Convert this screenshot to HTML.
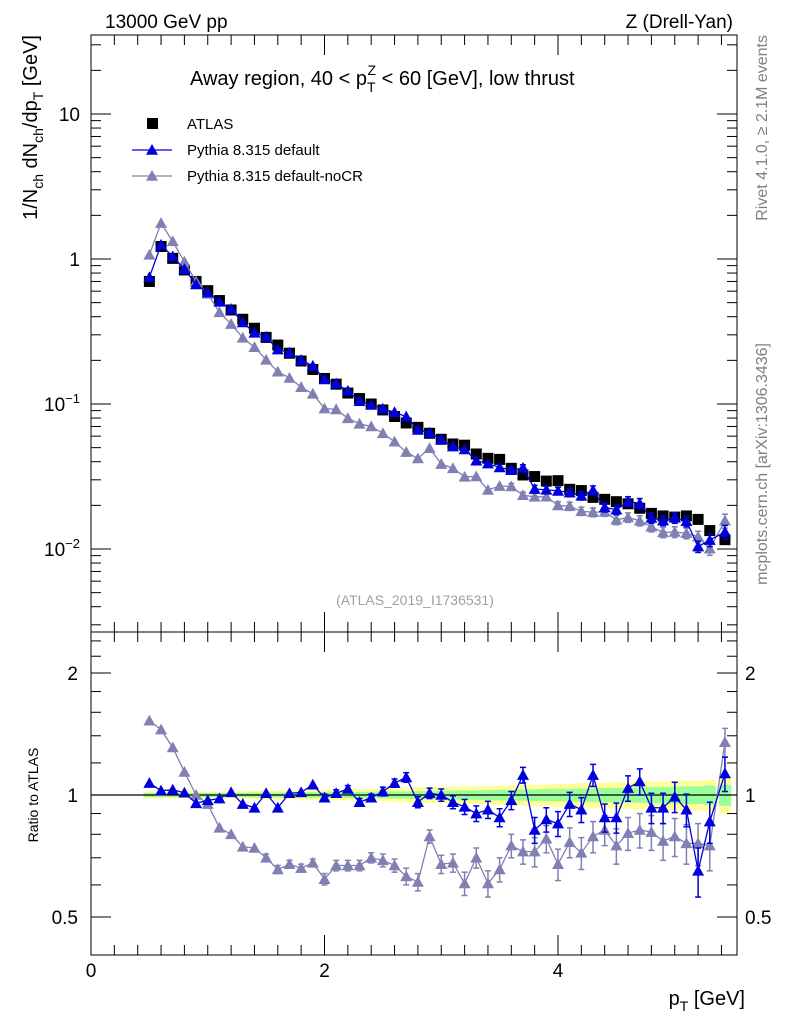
<!DOCTYPE html>
<html><head><meta charset="utf-8"><style>
body{margin:0;background:#fff}
svg{display:block;font-family:"Liberation Sans",sans-serif}
</style></head><body>
<svg id="c" width="786" height="1024" viewBox="0 0 786 1024"></svg>
<script>
const xVals=[0.5,0.6,0.7,0.8,0.9,1.0,1.1,1.2,1.3,1.4,1.5,1.6,1.7,1.8,1.9,2.0,2.1,2.2,2.3,2.4,2.5,2.6,2.7,2.8,2.9,3.0,3.1,3.2,3.3,3.4,3.5,3.6,3.7,3.8,3.9,4.0,4.1,4.2,4.3,4.4,4.5,4.6,4.7,4.8,4.9,5.0,5.1,5.2,5.3,5.43];
const atlas=[0.70,1.22,1.01,0.84,0.70,0.605,0.517,0.445,0.384,0.333,0.288,0.255,0.224,0.198,0.173,0.150,0.137,0.119,0.109,0.100,0.091,0.082,0.074,0.069,0.0628,0.0571,0.053,0.052,0.0452,0.0422,0.0415,0.036,0.0324,0.0316,0.0294,0.0296,0.0258,0.0253,0.0227,0.022,0.0212,0.0205,0.0191,0.0176,0.0169,0.0166,0.0169,0.016,0.0134,0.0116];
const ratioDefault=[1.07,1.025,1.03,1.013,0.954,0.97,0.98,1.015,0.95,0.93,1.01,0.93,1.01,1.015,1.06,0.985,1.01,1.035,0.96,0.985,1.02,1.07,1.105,0.96,1.01,1.0,0.96,0.935,0.90,0.92,0.88,0.97,1.12,0.82,0.87,0.85,0.95,0.92,1.12,0.88,0.88,1.04,1.08,0.93,0.93,0.99,0.92,0.65,0.86,1.13];
const ratioNoCR=[1.525,1.45,1.31,1.14,1.0,0.95,0.83,0.80,0.745,0.74,0.70,0.655,0.675,0.66,0.68,0.62,0.67,0.67,0.67,0.70,0.69,0.67,0.63,0.61,0.79,0.675,0.68,0.605,0.70,0.605,0.655,0.75,0.725,0.725,0.78,0.675,0.765,0.72,0.79,0.82,0.75,0.805,0.82,0.81,0.77,0.79,0.76,0.76,0.75,1.35];
const ratioErr=[0.01,0.01,0.01,0.01,0.01,0.01,0.01,0.01,0.01,0.01,0.015,0.015,0.015,0.015,0.015,0.02,0.02,0.02,0.02,0.02,0.025,0.025,0.03,0.03,0.03,0.035,0.035,0.04,0.04,0.045,0.045,0.05,0.05,0.06,0.06,0.06,0.065,0.065,0.07,0.07,0.075,0.075,0.08,0.08,0.08,0.085,0.085,0.09,0.1,0.11];
const bandYellow=[0.02,0.02,0.02,0.02,0.02,0.02,0.02,0.02,0.02,0.025,0.025,0.025,0.025,0.03,0.03,0.03,0.03,0.03,0.035,0.035,0.035,0.04,0.04,0.045,0.045,0.045,0.05,0.05,0.05,0.05,0.055,0.055,0.06,0.06,0.06,0.065,0.065,0.07,0.07,0.07,0.075,0.075,0.08,0.08,0.08,0.085,0.085,0.085,0.09,0.1];
const bandGreen=[0.012,0.012,0.012,0.012,0.012,0.012,0.012,0.012,0.012,0.014,0.014,0.014,0.015,0.015,0.016,0.016,0.017,0.017,0.018,0.018,0.019,0.02,0.02,0.022,0.022,0.024,0.025,0.026,0.027,0.028,0.03,0.03,0.032,0.033,0.034,0.035,0.036,0.037,0.038,0.04,0.04,0.042,0.043,0.045,0.046,0.048,0.05,0.05,0.055,0.06];
const mainTicks=["10","1","10<tspan dy='-8' font-size='13'>−1</tspan>","10<tspan dy='-8' font-size='13'>−2</tspan>"];
const xTickLabels=["0","2","4"];

const NS="http://www.w3.org/2000/svg";
const svg=document.getElementById('c');
const L=91,R=737,T1=35,B1=632,B2=955;
const X=v=>L+v*116.75;
const Ym=v=>259-Math.log10(v)*145;
const Yr=v=>795-Math.log2(v)*122;
function mk(tag,attrs,parent){const e=document.createElementNS(NS,tag);for(const k in attrs)e.setAttribute(k,attrs[k]);(parent||svg).appendChild(e);return e;}
function txt(s,x,y,size,anchor,extra){const t=mk('text',Object.assign({x:x,y:y,'font-size':size,'text-anchor':anchor||'start',fill:'#000'},extra||{}));t.innerHTML=s;return t;}

const gb=mk('g',{});


xVals.forEach((x,i)=>{
  const x0=X(x-0.05),w=116.75*0.1+0.5;
  mk('rect',{x:x0,y:Yr(1+bandYellow[i]),width:w,height:Yr(1-bandYellow[i])-Yr(1+bandYellow[i]),fill:'#ffff99'},gb);
  mk('rect',{x:x0,y:Yr(1+bandGreen[i]),width:w,height:Yr(1-bandGreen[i])-Yr(1+bandGreen[i]),fill:'#99ff99'},gb);
});
const one=mk('line',{x1:L,x2:R,y1:Yr(1),y2:Yr(1),stroke:'#000','stroke-width':1.3});



const f1=mk('rect',{x:L,y:T1,width:R-L,height:B1-T1,fill:'none',stroke:'#000','stroke-width':1});

const f2=mk('rect',{x:L,y:B1,width:R-L,height:B2-B1,fill:'none',stroke:'#000','stroke-width':1});


const gt=mk('g',{stroke:'#000','stroke-width':1});

function tk(x1,y1,x2,y2){mk('line',{x1:x1,y1:y1,x2:x2,y2:y2},gt);}
for(let e=-3;e<=1;e++){for(let m=1;m<10;m++){const v=m*Math.pow(10,e);const y=Ym(v);if(y<T1||y>B1)continue;const len=m==1?20:10;tk(L,y,L+len,y);tk(R,y,R-len,y);}}
[0.5,0.6,0.7,0.8,0.9,1,1.2,1.4,1.6,1.8,2,2.2,2.4].forEach(v=>{const y=Yr(v);const len=(v==0.5||v==1||v==2)?20:10;tk(L,y,L+len,y);tk(R,y,R-len,y);});
for(let v=0;v<=5.6;v+=0.2){const x=X(v);const maj=Math.abs(v/2-Math.round(v/2))<0.01;const len=maj?20:10;tk(x,B1,x,B1-len);tk(x,T1,x,T1+len);tk(x,B2,x,B2-len);tk(x,B1,x,B1+len);}

[10,1,0.1,0.01].forEach((v,i)=>{const t=txt(mainTicks[i],80,Ym(v)+7,19,'end');});
[2,1,0.5].forEach(v=>{const s=String(v);let t=txt(s,78,Yr(v)+7,19,'end');t=txt(s,745,Yr(v)+7,19,'start');});
[0,2,4].forEach((v,i)=>{const t=txt(xTickLabels[i],X(v),977,19,'middle');});

function tri(g,x,y,col,s){mk('polygon',{points:`${x-s},${y+s*0.8} ${x+s},${y+s*0.8} ${x},${y-s}`,fill:col},g);}
function series(name,ratio,col,inRatio){
  const g=mk('g',{});
  
  
  const Y=inRatio?(i=>Yr(ratio[i])):(i=>Ym(atlas[i]*ratio[i]));
  mk('polyline',{points:xVals.map((x,i)=>X(x)+','+Y(i)).join(' '),fill:'none',stroke:col,'stroke-width':1.3},g);
  xVals.forEach((x,i)=>{
    const e=ratioErr[i];
    let y1,y2;
    if(inRatio){y1=Yr(ratio[i]+e);y2=Yr(Math.max(ratio[i]-e,0.41));}
    else{const v=atlas[i]*ratio[i];y1=Ym(v*(1+e));y2=Ym(v*(1-e));}
    if(y2-y1>6){mk('line',{x1:X(x),x2:X(x),y1:y1,y2:y2,stroke:col,'stroke-width':1.5},g);mk('line',{x1:X(x)-3,x2:X(x)+3,y1:y1,y2:y1,stroke:col,'stroke-width':1.5},g);mk('line',{x1:X(x)-3,x2:X(x)+3,y1:y2,y2:y2,stroke:col,'stroke-width':1.5},g);}
    tri(g,X(x),Y(i),col,6);
  });
}
const ga=mk('g',{fill:'#000'});

xVals.forEach((x,i)=>{mk('rect',{x:X(x)-5.5,y:Ym(atlas[i])-5.5,width:11,height:11},ga);});
series('pythia-default-noCR-main',ratioNoCR,'#8080b3',false);
series('pythia-default-main',ratioDefault,'#0000dd',false);
series('pythia-default-noCR-ratio',ratioNoCR,'#8080b3',true);
series('pythia-default-ratio',ratioDefault,'#0000dd',true);

const lg=mk('g',{});

mk('rect',{x:147,y:118,width:11,height:11,fill:'#000'},lg);
mk('line',{x1:132,x2:172,y1:150,y2:150,stroke:'#0000dd','stroke-width':1.3},lg);tri(lg,152,150,'#0000dd',6);
mk('line',{x1:132,x2:172,y1:176,y2:176,stroke:'#8080b3','stroke-width':1.3},lg);tri(lg,152,176,'#8080b3',6);
let t;
t=txt('ATLAS',187,129,15);
t=txt('Pythia 8.315 default',187,155,15);
t=txt('Pythia 8.315 default-noCR',187,181,15);

t=txt('13000 GeV pp',105,28,19);
t=txt('Z (Drell-Yan)',733,28,19,'end');
t=txt("Away region, 40 &lt; p<tspan dy='7' font-size='14'>T</tspan><tspan dy='-17' dx='-8' font-size='14'>Z</tspan><tspan dy='10'> &lt; 60 [GeV], low thrust</tspan>",190,85,20);
t=txt('(ATLAS_2019_I1736531)',415,605,14,'middle',{fill:'#a0a0a0'});
t=txt("1/N<tspan dy='6' font-size='14'>ch</tspan><tspan dy='-6'> dN</tspan><tspan dy='6' font-size='14'>ch</tspan><tspan dy='-6'>/dp</tspan><tspan dy='6' font-size='14'>T</tspan><tspan dy='-6'> [GeV]</tspan>",0,0,20,'end',{transform:'translate(37,35) rotate(-90)'});
t=txt('Ratio to ATLAS',0,0,14,'middle',{transform:'translate(38,795) rotate(-90)'});
t=txt("p<tspan dy='6' font-size='14'>T</tspan><tspan dy='-6'> [GeV]</tspan>",745,1005,20,'end');
t=txt('Rivet 4.1.0, ≥ 2.1M events',0,0,16,'end',{fill:'#808080',transform:'translate(767,35) rotate(-90)'});
t=txt('mcplots.cern.ch [arXiv:1306.3436]',0,0,16,'end',{fill:'#808080',transform:'translate(767,343) rotate(-90)'});
</script>
</body></html>
